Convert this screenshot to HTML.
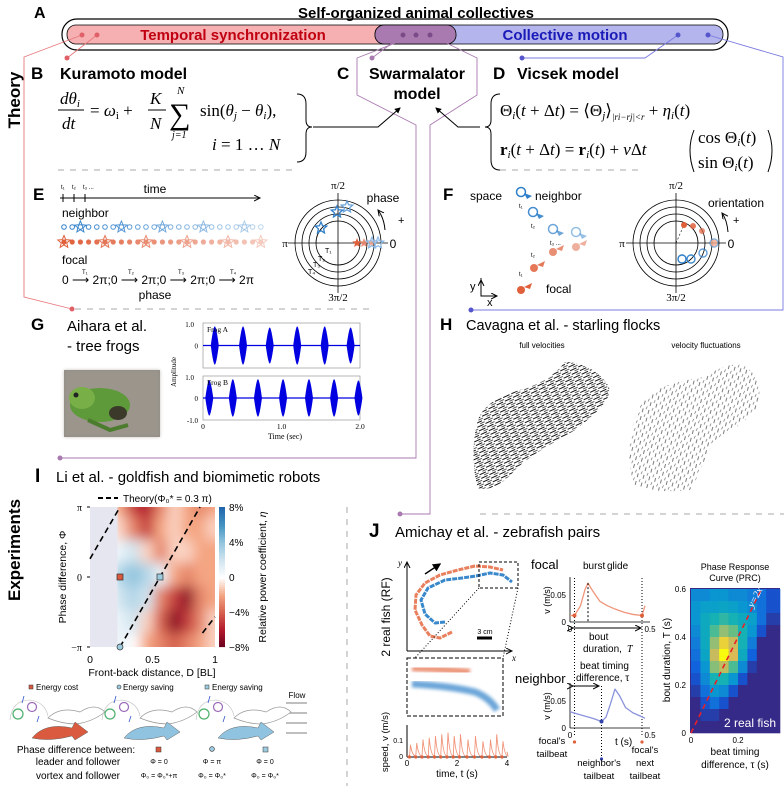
<!DOCTYPE html>
<html><head><meta charset="utf-8">
<style>
html,body{margin:0;padding:0;background:#fff;}
svg{display:block;font-family:"Liberation Sans",Arial,sans-serif;}
.serif{font-family:"Liberation Serif",serif;}
</style></head>
<body>
<svg id="fig" width="784" height="786" viewBox="0 0 784 786" xmlns="http://www.w3.org/2000/svg">
<defs>
<filter id="blur4" x="-5%" y="-5%" width="110%" height="110%"><feGaussianBlur stdDeviation="6"/></filter>
<filter id="blur2"><feGaussianBlur stdDeviation="1.6"/></filter>
<clipPath id="clipI"><rect x="90" y="507" width="125" height="140"/></clipPath>
<pattern id="strokesA" width="9" height="4" patternUnits="userSpaceOnUse" patternTransform="rotate(-25)">
<line x1="0" y1="1" x2="7" y2="1" stroke="#111" stroke-width="1"/><line x1="4" y1="3" x2="9" y2="3" stroke="#333" stroke-width="0.8"/></pattern>
<pattern id="strokesB" width="8" height="6" patternUnits="userSpaceOnUse" patternTransform="rotate(-75)">
<line x1="0" y1="1" x2="4" y2="1" stroke="#222" stroke-width="0.6"/><line x1="4" y1="4" x2="7" y2="4.5" stroke="#444" stroke-width="0.6"/></pattern>
<marker id="arr" markerWidth="8" markerHeight="8" refX="6" refY="3" orient="auto"><path d="M0,0 L6,3 L0,6" fill="none" stroke="#000" stroke-width="1"/></marker>
<marker id="arrf" markerWidth="6" markerHeight="6" refX="5" refY="3" orient="auto"><path d="M0,0 L6,3 L0,6 Z" fill="#000"/></marker>
</defs>

<!-- Panel A -->
<text x="34" y="18" font-size="16" font-weight="bold">A</text>
<text x="416" y="18" font-size="15" font-weight="bold" text-anchor="middle">Self-organized animal collectives</text>
<rect x="62" y="19" width="666" height="31" rx="15" fill="none" stroke="#000" stroke-width="1.2"/>
<rect x="67" y="25" width="390" height="19" rx="9" fill="#f6b0b2" stroke="#000" stroke-width="0.8"/>
<rect x="375" y="25" width="348" height="19" rx="9" fill="#b3b5ec" stroke="#000" stroke-width="0.8"/>
<path d="M384,25 H447 A9,9 0 0 1 456,34 A9,9 0 0 1 447,44 H384 A9,9 0 0 1 375,34 A9,9 0 0 1 384,25 Z" fill="#a97ab0" stroke="#000" stroke-width="0.8"/>
<text x="233" y="40" font-size="15" font-weight="bold" fill="#c00010" text-anchor="middle">Temporal synchronization</text>
<text x="565" y="40" font-size="15" font-weight="bold" fill="#1a1ab8" text-anchor="middle">Collective motion</text>

<!-- connector lines -->
<g fill="none" stroke-width="0.9">
<polyline points="82,35 24,57 24,297 72,309" stroke="#e87a7e"/>
<polyline points="97,35 67,58" stroke="#e87a7e"/>
<polyline points="708,35 783,57 783,310 471,310" stroke="#7a7ae0"/>
<polyline points="678,35 645,58 522,58" stroke="#7a7ae0"/>
<polyline points="403,35 372,58" stroke="#a97ab0"/>
<polyline points="416,35 357,58 357,95 416,125 416,458 60,458" stroke="#a97ab0"/>
<polyline points="430,35 477,58 477,95 430,125 430,514 400,514" stroke="#a97ab0"/>
</g>
<g>
<circle cx="82" cy="35" r="2.5" fill="#e06068"/><circle cx="97" cy="35" r="2.5" fill="#e06068"/>
<circle cx="67" cy="58" r="2.5" fill="#e06068"/><circle cx="72" cy="309" r="2.5" fill="#e06068"/>
<circle cx="403" cy="35" r="2.5" fill="#7a4b88"/><circle cx="416" cy="35" r="2.5" fill="#7a4b88"/><circle cx="430" cy="35" r="2.5" fill="#7a4b88"/>
<circle cx="372" cy="58" r="2.5" fill="#a97ab0"/><circle cx="60" cy="458" r="2.5" fill="#a97ab0"/><circle cx="400" cy="514" r="2.5" fill="#a97ab0"/>
<circle cx="678" cy="35" r="2.5" fill="#5555cc"/><circle cx="708" cy="35" r="2.5" fill="#5555cc"/>
<circle cx="522" cy="58" r="2.5" fill="#5555cc"/><circle cx="471" cy="310" r="2.5" fill="#5555cc"/>
</g>

<text transform="translate(20,100) rotate(-90)" font-size="17" font-weight="bold" text-anchor="middle">Theory</text>
<text transform="translate(20,550) rotate(-90)" font-size="17" font-weight="bold" text-anchor="middle">Experiments</text>

<!-- B -->
<text x="31" y="79" font-size="17" font-weight="bold">B</text>
<text x="60" y="79" font-size="16" font-weight="bold">Kuramoto model</text>
<g class="serif" font-style="italic" font-size="17">
<text x="60" y="104">dθ<tspan font-size="11" dy="3">i</tspan></text>
<line x1="58" y1="110" x2="84" y2="110" stroke="#000"/>
<text x="62" y="129">dt</text>
<text x="90" y="116" font-style="normal">= <tspan font-style="italic">ω</tspan><tspan font-size="11" dy="3">i</tspan><tspan dy="-3"> +</tspan></text>
<text x="150" y="104">K</text><line x1="148" y1="110" x2="166" y2="110" stroke="#000"/><text x="150" y="129">N</text>
<text x="169" y="124" font-style="normal" font-size="30">∑</text>
<text x="177" y="94" font-size="11">N</text><text x="172" y="138" font-size="10">j=1</text>
<text x="200" y="116" font-style="normal">sin(<tspan font-style="italic">θ</tspan><tspan font-size="11" dy="3" font-style="italic">j</tspan><tspan dy="-3"> − </tspan><tspan font-style="italic">θ</tspan><tspan font-size="11" dy="3" font-style="italic">i</tspan><tspan dy="-3">),</tspan></text>
<text x="212" y="150">i <tspan font-style="normal">= 1 … </tspan>N</text>
<path d="M297,94 Q306,94 306,104 V120 Q306,127 312,127 Q306,127 306,134 V152 Q306,162 297,162" fill="none" stroke="#000" stroke-width="1"/>
</g>
<polyline points="313,127 378,127 400,108" fill="none" stroke="#000" stroke-width="1" marker-end="url(#arrf)"/>

<!-- C -->
<text x="337" y="79" font-size="17" font-weight="bold">C</text>
<text x="417" y="79" font-size="16" font-weight="bold" text-anchor="middle">Swarmalator</text>
<text x="417" y="99" font-size="16" font-weight="bold" text-anchor="middle">model</text>

<!-- D -->
<text x="493" y="79" font-size="17" font-weight="bold">D</text>
<text x="517" y="79" font-size="16" font-weight="bold">Vicsek model</text>
<polyline points="480,127 458,127 436,108" fill="none" stroke="#000" stroke-width="1" marker-end="url(#arrf)"/>
<g class="serif" font-size="17">
<path d="M500,94 Q491,94 491,104 V120 Q491,127 485,127 Q491,127 491,134 V160 Q491,170 500,170" fill="none" stroke="#000" stroke-width="1"/>
<text x="500" y="116">Θ<tspan font-size="11" dy="3" font-style="italic">i</tspan><tspan dy="-3">(<tspan font-style="italic">t</tspan> + Δ<tspan font-style="italic">t</tspan>) = ⟨Θ</tspan><tspan font-size="11" dy="3" font-style="italic">j</tspan><tspan dy="-3">⟩</tspan><tspan font-size="9" dy="4" font-style="italic">|ri−rj|&lt;r</tspan><tspan dy="-4"> + </tspan><tspan font-style="italic">η</tspan><tspan font-size="11" dy="3" font-style="italic">i</tspan><tspan dy="-3">(<tspan font-style="italic">t</tspan>)</tspan></text>
<text x="500" y="155"><tspan font-weight="bold">r</tspan><tspan font-size="11" dy="3" font-style="italic">i</tspan><tspan dy="-3">(<tspan font-style="italic">t</tspan> + Δ<tspan font-style="italic">t</tspan>) = </tspan><tspan font-weight="bold">r</tspan><tspan font-size="11" dy="3" font-style="italic">i</tspan><tspan dy="-3">(<tspan font-style="italic">t</tspan>) + <tspan font-style="italic">v</tspan>Δ<tspan font-style="italic">t</tspan></tspan></text>
<text x="698" y="143">cos Θ<tspan font-size="11" dy="3" font-style="italic">i</tspan><tspan dy="-3">(<tspan font-style="italic">t</tspan>)</tspan></text>
<text x="698" y="168">sin Θ<tspan font-size="11" dy="3" font-style="italic">i</tspan><tspan dy="-3">(<tspan font-style="italic">t</tspan>)</tspan></text>
<path d="M694,130 Q686,150 694,172" fill="none" stroke="#000"/><path d="M768,130 Q776,150 768,172" fill="none" stroke="#000"/>
</g>
<line x1="58" y1="170" x2="296" y2="170" stroke="#aaa" stroke-dasharray="6,6"/>
<line x1="500" y1="170" x2="640" y2="170" stroke="#aaa" stroke-dasharray="6,6"/>
<line x1="75" y1="309" x2="375" y2="309" stroke="#aaa" stroke-dasharray="6,6"/>

<!-- E -->
<text x="33" y="200" font-size="17" font-weight="bold">E</text>
<g font-size="6"><text x="61" y="189">t₁</text><text x="72" y="189">t₂</text><text x="83" y="189">t₃ ...</text></g>
<text x="155" y="193" font-size="12" text-anchor="middle">time</text>
<line x1="60" y1="198" x2="260" y2="198" stroke="#000" marker-end="url(#arr)"/>
<g stroke="#000"><line x1="63" y1="194" x2="63" y2="202"/><line x1="74" y1="194" x2="74" y2="202"/><line x1="85" y1="194" x2="85" y2="202"/></g>
<text x="62" y="217" font-size="12">neighbor</text>
<g id="rowN"></g>
<g id="rowF"></g>
<text x="62" y="264" font-size="12">focal</text>
<text x="62" y="284" font-size="12">0 <tspan>⟶</tspan> 2π;0 ⟶ 2π;0 ⟶ 2π;0 ⟶ 2π</text>
<g font-size="6"><text x="82" y="274">T₁</text><text x="128" y="274">T₂</text><text x="178" y="274">T₃</text><text x="230" y="274">T₄</text></g>
<text x="155" y="299" font-size="12" text-anchor="middle">phase</text>
<g id="circE"></g>
<text x="338" y="189" font-size="11" text-anchor="middle" class="serif">π/2</text>
<text x="338" y="301" font-size="11" text-anchor="middle" class="serif">3π/2</text>
<text x="285" y="247" font-size="11" text-anchor="middle" class="serif">π</text>
<text x="393" y="248" font-size="12" text-anchor="middle">0</text>
<text x="383" y="202" font-size="12" text-anchor="middle">phase</text>
<text x="398" y="224" font-size="11">+</text>
<path d="M385,230 Q384,218 378,210" fill="none" stroke="#000" marker-end="url(#arr)"/>
<g font-size="7"><text x="325" y="253">T₁</text><text x="318" y="261">T₂</text><text x="313" y="267">T₃</text><text x="308" y="274">T₄</text></g>

<!-- F -->
<text x="443" y="200" font-size="17" font-weight="bold">F</text>
<text x="470" y="200" font-size="12">space</text>
<text x="535" y="200" font-size="12">neighbor</text>
<g id="trajF"></g>
<text x="546" y="293" font-size="12">focal</text>
<g font-size="6"><text x="519" y="208">t₁</text><text x="531" y="228">t₂</text><text x="550" y="245">t₃ ...</text><text x="531" y="257">t₂</text><text x="519" y="276">t₁</text></g>
<g stroke="#000" fill="none"><polyline points="481,278 481,296 497,296" marker-end="url(#arr)"/><line x1="481" y1="296" x2="481" y2="280" marker-end="url(#arr)"/></g>
<text x="470" y="290" font-size="11">y</text>
<text x="487" y="306" font-size="11">x</text>
<g id="circF"></g>
<text x="676" y="189" font-size="11" text-anchor="middle" class="serif">π/2</text>
<text x="676" y="301" font-size="11" text-anchor="middle" class="serif">3π/2</text>
<text x="622" y="247" font-size="11" text-anchor="middle" class="serif">π</text>
<text x="731" y="248" font-size="12" text-anchor="middle">0</text>
<text x="736" y="207" font-size="12" text-anchor="middle">orientation</text>
<text x="733" y="224" font-size="11">+</text>
<path d="M728,232 Q727,220 722,213" fill="none" stroke="#000" marker-end="url(#arr)"/>

<!-- G -->
<text x="31" y="330" font-size="17" font-weight="bold">G</text>
<text x="67" y="331" font-size="15">Aihara et al.</text>
<text x="67" y="351" font-size="15">- tree frogs</text>
<g>
<rect x="64" y="370" width="96" height="67" fill="#8f8a82"/>
<rect x="64" y="370" width="96" height="67" fill="#a39d94" opacity="0.6" filter="url(#blur2)"/>
<ellipse cx="100" cy="405" rx="30" ry="17" fill="#5f9a3a"/>
<ellipse cx="82" cy="398" rx="13" ry="11" fill="#78b047"/>
<ellipse cx="118" cy="413" rx="9" ry="7" fill="#3b3a2a"/>
<circle cx="76" cy="395" r="2.5" fill="#222"/>
<path d="M88,420 L110,430 L128,425" stroke="#4c7d2e" stroke-width="4" fill="none"/>
</g>
<g id="frogplot"></g>

<!-- H -->
<text x="440" y="330" font-size="17" font-weight="bold">H</text>
<text x="466" y="330" font-size="14.5">Cavagna et al. - starling flocks</text>
<text x="542" y="348" font-size="8" text-anchor="middle">full velocities</text>
<text x="706" y="348" font-size="8" text-anchor="middle">velocity fluctuations</text>
<path d="M478,488 C472,470 472,440 478,420 C484,404 500,396 520,390 C540,384 552,378 565,362 C585,362 605,375 610,390 C608,405 590,418 575,430 C555,442 530,455 515,470 C505,482 490,492 478,488 Z" fill="url(#strokesA)"/>
<path d="M635,485 C626,465 628,430 640,405 C650,390 670,382 700,378 C715,372 725,362 745,365 C758,375 762,395 758,405 C750,420 730,432 715,440 C705,455 700,475 690,490 C672,492 650,492 635,485 Z" fill="url(#strokesB)"/>

<!-- I -->
<text x="35" y="482" font-size="19" font-weight="bold">I</text>
<text x="56" y="482" font-size="15">Li et al. - goldfish and biomimetic robots</text>
<g id="heatI"></g>
<line x1="98" y1="498" x2="118" y2="498" stroke="#000" stroke-width="2" stroke-dasharray="5,3"/>
<text x="123" y="502" font-size="10">Theory(Φ₀* = 0.3 π)</text>
<text transform="translate(66,577) rotate(-90)" font-size="10.5" text-anchor="middle">Phase difference, Φ</text>
<text x="152" y="676" font-size="10.5" text-anchor="middle">Front-back distance, D [BL]</text>
<text transform="translate(266,577) rotate(-90)" font-size="10.5" text-anchor="middle">Relative power coefficient, <tspan font-style="italic">η</tspan></text>

<g font-size="8">
<rect x="29" y="685" width="4" height="4" fill="#d95a3f" stroke="#333" stroke-width="0.5"/><text x="36" y="690">Energy cost</text>
<circle cx="119" cy="687" r="2" fill="#9ccbe0" stroke="#333" stroke-width="0.6"/><text x="123" y="690">Energy saving</text>
<rect x="205" y="685" width="4" height="4" fill="#9ccbe0" stroke="#333" stroke-width="0.5"/><text x="212" y="690">Energy saving</text>
<text x="297" y="698" text-anchor="middle">Flow</text>
</g>
<g stroke="#aaa" stroke-width="1.6">
<line x1="307" y1="703" x2="286" y2="703"/><line x1="307" y1="713" x2="286" y2="713"/><line x1="307" y1="723" x2="286" y2="723"/><line x1="307" y1="733" x2="286" y2="733"/>
</g>
<g id="fishes"></g>
<g font-size="9">
<text x="76" y="753" text-anchor="middle" font-size="10">Phase difference between:</text>
<text x="78" y="765" text-anchor="middle" font-size="10">leader and follower</text>
<text x="78" y="779" text-anchor="middle" font-size="10">vortex and follower</text>
<rect x="156" y="747" width="5" height="5" fill="#d95a3f" stroke="#333" stroke-width="0.5"/>
<circle cx="212" cy="749" r="2.4" fill="#9ccbe0" stroke="#333" stroke-width="0.6"/>
<rect x="263" y="747" width="5" height="5" fill="#9ccbe0" stroke="#333" stroke-width="0.5"/>
<text x="159" y="764" text-anchor="middle" font-size="7">Φ = 0</text><text x="212" y="764" text-anchor="middle" font-size="7">Φ = π</text><text x="265" y="764" text-anchor="middle" font-size="7">Φ = 0</text>
<text x="159" y="778" text-anchor="middle" font-size="7">Φ₀ = Φ₀*+π</text><text x="212" y="778" text-anchor="middle" font-size="7">Φ₀ = Φ₀*</text><text x="265" y="778" text-anchor="middle" font-size="7">Φ₀ = Φ₀*</text>
</g>
<line x1="347" y1="507" x2="347" y2="786" stroke="#aaa" stroke-dasharray="6,6"/>
<line x1="480" y1="514" x2="784" y2="514" stroke="#aaa" stroke-dasharray="6,6"/>

<!-- J -->
<text x="369" y="537" font-size="19" font-weight="bold">J</text>
<text x="395" y="537" font-size="15">Amichay et al. - zebrafish pairs</text>
<text transform="translate(390,617) rotate(-90)" font-size="12" text-anchor="middle">2 real fish (RF)</text>
<g id="traj"></g>
<g id="speed"></g>
<g id="focalplot"></g>
<g id="neighplot"></g>
<g id="prc"></g>
</svg>

<script>
const NS='http://www.w3.org/2000/svg';
function mk(parent,tag,attrs,txt){const e=document.createElementNS(NS,tag);for(const k in attrs)e.setAttribute(k,attrs[k]);if(txt!==undefined)e.textContent=txt;parent.appendChild(e);return e;}
function star(cx,cy,r){let p=[];for(let i=0;i<10;i++){const a=-Math.PI/2+i*Math.PI/5;const rr=i%2?r*0.45:r;p.push((cx+rr*Math.cos(a)).toFixed(1)+','+(cy+rr*Math.sin(a)).toFixed(1));}return p.join(' ');}

// ---- E rows ----
const rowN=document.getElementById('rowN'), rowF=document.getElementById('rowF');
for(let i=0;i<25;i++){
  const x=64+i*8.2, op=1-i*0.028;
  const c=mk(rowN,'circle',{cx:x,cy:227,r:2.3,fill:'none',stroke:'#2f7fc9','stroke-width':1,opacity:op});
  
  
  if(i%5===2){const s=mk(rowN,'polygon',{points:star(x,227,6),fill:'none',stroke:'#2f7fc9','stroke-width':1,opacity:op});
    
    }
  const d=mk(rowF,'circle',{cx:x,cy:242,r:2.6,fill:'#e0603c',opacity:op});
  
  
  if(i%5===0||i===24){const s=mk(rowF,'polygon',{points:star(x,242,6.5),fill:'none',stroke:'#e0603c','stroke-width':1,opacity:op});
    
    }
}
// ---- circles ----
function rings(g,cx,cy){
  [43,36,29,22].forEach(r=>mk(g,'circle',{cx,cy,r,fill:'none',stroke:'#000','stroke-width':0.8}));
  mk(g,'line',{x1:cx-50,y1:cy,x2:cx+50,y2:cy,stroke:'#000','stroke-width':0.8});
  mk(g,'line',{x1:cx,y1:cy-50,x2:cx,y2:cy+50,stroke:'#000','stroke-width':0.8});
}
const cE=document.getElementById('circE'); rings(cE,338,243);
[[321,228,'#2f7fc9',1],[337,212,'#2f7fc9',1],[347,207,'#5a9ad6',0.9]].forEach(s=>{const p=mk(cE,'polygon',{points:star(s[0],s[1],6),fill:'none',stroke:s[2],'stroke-width':1.3,opacity:s[3]});
  
  });
[[357,243,'#e0603c',1],[364,243,'#e8846a',0.9],[371,243,'#efa08a',0.8]].forEach(s=>{const p=mk(cE,'polygon',{points:star(s[0],s[1],5),fill:s[2],opacity:s[3]});
  
  });
[[372,243],[378,243]].forEach(s=>{const p=mk(cE,'polygon',{points:star(s[0],s[1],6),fill:'none',stroke:'#8ab8e6','stroke-width':1.2});
  
  });

const cF=document.getElementById('circF'); rings(cF,676,243);
mk(cF,'line',{x1:676,y1:243,x2:684,y2:225,stroke:'#000','stroke-dasharray':'2,2','stroke-width':0.6});
[[684,225,1],[693,226,0.85],[702,231,0.7]].forEach(s=>{const p=mk(cF,'circle',{cx:s[0],cy:s[1],r:3,fill:'#e0603c',opacity:s[2]});
  
  });
[[682,259,1],[691,259,0.9],[703,253,0.75],[714,243,0.6]].forEach(s=>{const p=mk(cF,'circle',{cx:s[0],cy:s[1],r:4,fill:'none',stroke:'#2f7fc9','stroke-width':1.4,opacity:s[2]});
  
  });
mk(cF,'circle',{cx:714,cy:243,r:3.5,fill:'#f2a98f',opacity:0.8});

// ---- F trajectories ----
const tF=document.getElementById('trajF');
const nPts=[[521,192,1],[533,212,0.9],[553,229,0.7],[576,232,0.5]];
const fPts=[[521,290,1],[534,268,0.85],[553,252,0.7],[576,247,0.5]];
nPts.forEach(p=>{const c=mk(tF,'circle',{cx:p[0],cy:p[1],r:4.5,fill:'none',stroke:'#2f7fc9','stroke-width':1.5,opacity:p[2]});
  
  
  mk(tF,'path',{d:`M${p[0]+3},${p[1]+1} l8,3 l-5,3 z`,fill:'#2f7fc9',opacity:p[2]});});
fPts.forEach(p=>{const c=mk(tF,'circle',{cx:p[0],cy:p[1],r:4,fill:'#e0603c',opacity:p[2]});
  
  
  mk(tF,'path',{d:`M${p[0]+3},${p[1]-3} l8,-4 l-2,6 z`,fill:'#e0603c',opacity:p[2]});});

// ---- G frog plot ----
const frogA_times=[0.15,0.51,0.85,1.2,1.55,1.88];
const frogB_times=[0.08,0.38,0.7,1.02,1.35,1.67,1.98];
const frogA_amp=[0.85,0.85,0.8,0.85,0.85,0.8];
const frogB_amp=[0.8,0.85,0.85,0.85,0.85,0.85,0.8];
const frogTicks=['0','1.0','2.0'];
const fg=document.getElementById('frogplot');
const fx=t=>203+t*78.5;
function frogPanel(y0,y1,times,amps,name){
  const mid=(y0+y1)/2, half=(y1-y0)/2;
  const fy=v=>mid-v*half;
  mk(fg,'rect',{x:203,y:y0,width:157,height:y1-y0,fill:'none',stroke:'#888','stroke-width':0.6});
  mk(fg,'line',{x1:203,y1:fy(0),x2:360,y2:fy(0),stroke:'#0000e0','stroke-width':1.2});
  times.forEach((t,i)=>{const x=fx(t),a=amps[i];
    const b=mk(fg,'path',{d:`M${x-4},${fy(0)} Q${x-1.5},${fy(a)} ${x},${fy(a)} Q${x+1.5},${fy(a)} ${x+4},${fy(0)} Q${x+1.5},${fy(-a)} ${x},${fy(-a)} Q${x-1.5},${fy(-a)} ${x-4},${fy(0)}Z`,fill:'#0000e0'});
    
    });
  mk(fg,'text',{x:194,y:y0+4,'font-size':7,'text-anchor':'end','font-family':'Liberation Serif'},'1.0');
  mk(fg,'text',{x:198,y:mid+3,'font-size':7,'text-anchor':'end','font-family':'Liberation Serif'},'0');
  mk(fg,'text',{x:207,y:y0+9,'font-size':7.5,'font-family':'Liberation Serif'},name);
}
frogPanel(323,368,frogA_times,frogA_amp,'Frog A');
frogPanel(376,420,frogB_times,frogB_amp,'Frog B');
mk(fg,'text',{x:198,y:423,'font-size':7,'text-anchor':'end','font-family':'Liberation Serif'},'-1.0');
frogTicks.forEach((l,i)=>mk(fg,'text',{x:fx(i),y:429,'font-size':7.5,'text-anchor':'middle','font-family':'Liberation Serif'},l));
mk(fg,'text',{x:285,y:439,'font-size':8,'text-anchor':'middle','font-family':'Liberation Serif'},'Time (sec)');
mk(fg,'text',{x:176,y:372,'font-size':7,'text-anchor':'middle','font-family':'Liberation Serif',transform:'rotate(-90 176 372)'},'Amplitude');

// ---- I heatmap ----
const I_xcenters=[0.25,0.36,0.47,0.58,0.69,0.8,0.9,1.0];
const I_ycenters=[1,0.667,0.333,0,-0.333,-0.667,-1];
const I_values=[
 [-2,-5,-6,-3,-1,-2,-3,-2],
 [-1,-3,-5,-2,-1,-2,-2,-1],
 [1,2,-1,-3,-1,-1,-2,-2],
 [3,4,3,1,-2,-3,-2,-2],
 [2,3,2,-3,-5,-7,-3,-2],
 [1,2,-1,-4,-7,-5,-3,-1],
 [1,0,-2,-3,-4,-3,-2,-1]];
const I_cbTicks=['8%','4%','0','−4%','−8%'];
const I_cbVals=[8,4,0,-4,-8];
const I_yTicks=['π','0','−π'];
const I_yTickVals=[1,0,-1];
const I_xTicks=['0','0.5','1'];
const I_xTickVals=[0,0.5,1];
const I_markers=[[0.24,0,'square','#d95a3f'],[0.56,0,'square','#9ccbe0'],[0.24,-1,'circle','#9ccbe0']];
const theoryLines=[[0,0.26,0.24,1],[0.24,-1,0.88,1],[0.9,-0.8,1,-0.57]];
const ix=x=>90+x*125, iy=v=>577-v*70;
function rdbu(v){const t=Math.max(-1,Math.min(1,v/8));
  const neg=[[255,255,255],[244,165,130],[214,96,77],[178,24,43],[103,0,31]];
  const pos=[[255,255,255],[209,229,240],[146,197,222],[67,147,195],[33,102,172]];
  const arr=t<0?neg:pos;const u=Math.abs(t)*4;const i=Math.min(3,Math.floor(u));const f=u-i;
  const c=arr[i].map((a,k)=>Math.round(a+(arr[i+1][k]-a)*f));return `rgb(${c})`;}
const hI=document.getElementById('heatI');
const gI=mk(hI,'g',{'clip-path':'url(#clipI)'});
const gB=mk(gI,'g',{filter:'url(#blur4)'});
mk(gB,'rect',{x:ix(0.2),y:iy(1.2),width:ix(1.1)-ix(0.2),height:iy(-1.2)-iy(1.2),fill:rdbu(-2)});
I_values.forEach((row,r)=>row.forEach((v,c)=>{
  const cell=mk(gB,'rect',{x:ix(I_xcenters[c]-0.07),y:iy(I_ycenters[r]+0.2),width:ix(0.14)-ix(0),height:iy(-0.4)-iy(0),fill:rdbu(v)});
  
  
}));
mk(gI,'rect',{x:ix(0),y:iy(1),width:ix(0.22)-ix(0),height:140,fill:'#e6e6f0'});
theoryLines.forEach(l=>{const ln=mk(hI,'line',{x1:ix(l[0]),y1:iy(l[1]),x2:ix(l[2]),y2:iy(l[3]),stroke:'#000','stroke-width':1.6,'stroke-dasharray':'6,4'});
  
  });
I_markers.forEach(m=>{let e;
  if(m[2]==='square')e=mk(hI,'rect',{x:ix(m[0])-3,y:iy(m[1])-3,width:6,height:6,fill:m[3],stroke:'#333','stroke-width':0.7});
  else e=mk(hI,'circle',{cx:ix(m[0]),cy:iy(m[1]),r:3,fill:m[3],stroke:'#333','stroke-width':0.7});
  
  });
I_yTicks.forEach((l,i)=>{mk(hI,'text',{x:82,y:iy(I_yTickVals[i])+4,'font-size':10,'text-anchor':'end','font-family':'Liberation Serif'},l);
  mk(hI,'line',{x1:87,y1:iy(I_yTickVals[i]),x2:90,y2:iy(I_yTickVals[i]),stroke:'#000'});});
I_xTicks.forEach((l,i)=>mk(hI,'text',{x:ix(I_xTickVals[i]),y:663,'font-size':10.5,'text-anchor':'middle'},l));
for(let k=0;k<70;k++){const v=8-k*16/70;mk(hI,'rect',{x:219,y:507+k*2,width:6,height:2.1,fill:rdbu(v)});}
I_cbTicks.forEach((l,i)=>mk(hI,'text',{x:229,y:577-I_cbVals[i]*70/8+4,'font-size':10},l));

// ---- fish drawings ----
const fishG=document.getElementById('fishes');
const fishOff=[0,92,186];
const fishColor=['#d95a3f','#8fc3df','#8fc3df'];
fishOff.forEach((dx,i)=>{
  const g=mk(fishG,'g',{transform:`translate(${dx},0)`});
  
  
  mk(g,'path',{d:'M48,718 Q60,706 80,712 Q95,702 105,712 Q92,722 76,724 Q62,724 48,718Z',fill:'#fff',stroke:'#999','stroke-width':0.7});
  mk(g,'path',{d:'M32,738 Q45,722 72,728 L75,722 L88,732 L75,740 L72,736 Q50,742 32,738Z',fill:fishColor[i],stroke:'#666','stroke-width':0.5});
  mk(g,'circle',{cx:18,cy:714,r:5,fill:'none',stroke:'#4caf6a','stroke-width':1.2});
  mk(g,'circle',{cx:32,cy:707,r:4.5,fill:'none',stroke:'#9a6ab8','stroke-width':1.2});
  mk(g,'path',{d:'M10,720 Q12,700 30,700 Q45,702 48,716',fill:'none',stroke:'#bbb','stroke-width':0.6});
  mk(g,'line',{x1:22,y1:703,x2:24,y2:696,stroke:'#3355cc','stroke-width':0.8});
  mk(g,'line',{x1:37,y1:722,x2:39,y2:716,stroke:'#3355cc','stroke-width':0.8});
});

// ---- J trajectories ----
const trj=document.getElementById('traj');
const orangeX=[452,440,430,422,415,416,425,440,458,475,490,503];
const orangeY=[632,638,636,625,610,595,583,575,570,566,567,570];
const blueX=[445,435,425,421,428,445,462,476,490,503,512];
const blueY=[622,623,614,600,588,580,578,576,573,575,582];
mk(trj,'line',{x1:407,y1:651,x2:407,y2:562,stroke:'#000',  'marker-end':'url(#arr)'});
mk(trj,'line',{x1:407,y1:651,x2:512,y2:651,stroke:'#000','marker-end':'url(#arr)'});
mk(trj,'text',{x:398,y:566,'font-size':9,'font-style':'italic','font-family':'Liberation Serif'},'y');
mk(trj,'text',{x:512,y:661,'font-size':9,'font-style':'italic','font-family':'Liberation Serif'},'x');
function pl(xs,ys){return xs.map((x,i)=>x+','+ys[i]).join(' ');}
const po=mk(trj,'polyline',{points:pl(orangeX,orangeY),fill:'none',stroke:'#e8805e','stroke-width':3,'stroke-linejoin':'round','stroke-dasharray':'5,1'});


const pb=mk(trj,'polyline',{points:pl(blueX,blueY),fill:'none',stroke:'#3a88cc','stroke-width':3,'stroke-linejoin':'round','stroke-dasharray':'5,1'});


mk(trj,'line',{x1:425,y1:574,x2:440,y2:564,stroke:'#000','stroke-width':1.4,'marker-end':'url(#arrf)'});
mk(trj,'rect',{x:479,y:562,width:39,height:26,fill:'none',stroke:'#000','stroke-dasharray':'3,2'});
mk(trj,'line',{x1:477,y1:638,x2:492,y2:638,stroke:'#000','stroke-width':3});
mk(trj,'text',{x:485,y:634,'font-size':7,'text-anchor':'middle'},'3 cm');
mk(trj,'line',{x1:479,y1:588,x2:415,y2:658,stroke:'#000','stroke-dasharray':'1,2'});
mk(trj,'line',{x1:518,y1:588,x2:503,y2:658,stroke:'#000','stroke-dasharray':'1,2'});
mk(trj,'rect',{x:407,y:658,width:96,height:58,fill:'none',stroke:'#000','stroke-dasharray':'4,2'});
const zo=mk(trj,'path',{d:'M412,668 Q440,669 470,672',fill:'none',stroke:'#e8805e','stroke-width':7,opacity:0.8,filter:'url(#blur2)'});


const zb=mk(trj,'path',{d:'M412,684 Q450,686 475,692 Q490,698 497,710',fill:'none',stroke:'#3a88cc','stroke-width':7,opacity:0.75,filter:'url(#blur2)'});



// ---- speed plot ----
const speedPeakT=[0.1,0.35,0.6,0.85,1.1,1.35,1.6,1.85,2.1,2.4,2.7,3.0,3.3,3.55,3.8];
const speedPeakV=[0.07,0.08,0.1,0.11,0.12,0.13,0.14,0.12,0.13,0.1,0.12,0.09,0.1,0.13,0.09];
const speedTicksX=['0','2','4'];
const sp=document.getElementById('speed');
const sx=t=>407+t*25, sy=v=>757-v*175;
mk(sp,'line',{x1:407,y1:757,x2:507,y2:757,stroke:'#000'});
mk(sp,'line',{x1:407,y1:757,x2:407,y2:725,stroke:'#000'});
let d=`M${sx(0)},${sy(0.005)}`;
speedPeakT.forEach((t,i)=>{d+=` L${sx(t)},${sy(0.005)} L${sx(t+0.04)},${sy(speedPeakV[i])} Q${sx(t+0.1)},${sy(0.01)} ${sx(t+0.24)},${sy(0.005)}`;});
d+=` L${sx(4)},${sy(0.03)}`;
const sl=mk(sp,'path',{d,fill:'none',stroke:'#f0957a','stroke-width':0.9});


speedPeakT.forEach(t=>{const c=mk(sp,'circle',{cx:sx(t),cy:757,r:1.6,fill:'#e0603c'});
  
  });
speedTicksX.forEach((l,i)=>mk(sp,'text',{x:sx(i*2),y:766,'font-size':8,'text-anchor':'middle'},l));
mk(sp,'text',{x:403,y:743,'font-size':7,'text-anchor':'end'},'0.1');
mk(sp,'text',{x:403,y:759,'font-size':7,'text-anchor':'end'},'0');
mk(sp,'text',{x:457,y:777,'font-size':10,'text-anchor':'middle'},'time, t (s)');
mk(sp,'text',{x:388,y:742,'font-size':9.5,'text-anchor':'middle',transform:'rotate(-90 388 742)'},'speed, v (m/s)');

// ---- focal & neighbor plots ----
const focalT=[0,0.03,0.07,0.1,0.12,0.15,0.2,0.25,0.3,0.36,0.42,0.48,0.5];
const focalV=[0.012,0.012,0.03,0.06,0.072,0.058,0.038,0.03,0.024,0.018,0.014,0.012,0.03];
const neighT=[0,0.05,0.1,0.15,0.21,0.24,0.27,0.3,0.33,0.37,0.42,0.47,0.5];
const neighV=[0.03,0.026,0.022,0.018,0.012,0.02,0.045,0.072,0.06,0.038,0.028,0.022,0.018];
const focalBeats=[0.03,0.48];
const neighBeat=[0.21];
const px=t=>570+t*150;
function speedPanel(g,T,V,y0,color){
  const py=v=>y0-v*540;
  mk(g,'line',{x1:570,y1:y0,x2:650,y2:y0,stroke:'#000','stroke-width':0.8});
  mk(g,'line',{x1:570,y1:y0,x2:570,y2:y0-45,stroke:'#000','stroke-width':0.8});
  const p=mk(g,'polyline',{points:T.map((t,i)=>px(t)+','+py(V[i])).join(' '),fill:'none',stroke:color,'stroke-width':1.3,'stroke-linejoin':'round'});
  
  
  mk(g,'text',{x:566,y:py(0.05)+3,'font-size':8,'text-anchor':'end'},'0.05');
  mk(g,'text',{x:566,y:y0+3,'font-size':8,'text-anchor':'end'},'0');
  mk(g,'text',{x:570,y:y0+10,'font-size':8,'text-anchor':'middle'},'0');
  mk(g,'text',{x:650,y:y0+10,'font-size':8,'text-anchor':'middle'},'0.5');
  mk(g,'text',{x:550,y:y0-22,'font-size':9,'text-anchor':'middle',transform:`rotate(-90 550 ${y0-22})`},'v (m/s)');
  return py;
}
const fp=document.getElementById('focalplot');
const fpy=speedPanel(fp,focalT,focalV,622,'#f0957a');
focalBeats.forEach(t=>{mk(fp,'line',{x1:px(t),y1:578,x2:px(t),y2:735,stroke:'#000','stroke-dasharray':'1,2'});
  const c=mk(fp,'circle',{cx:px(t),cy:fpy(0.012),r:2,fill:'#e0603c'});
  
  });
mk(fp,'line',{x1:px(0.12),y1:fpy(0.072),x2:px(0.12),y2:622,stroke:'#000','stroke-dasharray':'2,2'});
mk(fp,'text',{x:531,y:569,'font-size':13},'focal');
mk(fp,'text',{x:583,y:569,'font-size':10},'burst');
mk(fp,'text',{x:607,y:569,'font-size':10},'glide');
mk(fp,'line',{x1:573,y1:628,x2:641,y2:628,stroke:'#000','marker-end':'url(#arr)','marker-start':'url(#arr)'});
mk(fp,'text',{x:589,y:640,'font-size':10},'bout');
mk(fp,'text',{x:583,y:652,'font-size':10},'duration, ');
mk(fp,'text',{x:627,y:652,'font-size':10,'font-style':'italic','font-family':'Liberation Serif'},'T');
mk(fp,'text',{x:580,y:669,'font-size':10},'beat timing');
mk(fp,'text',{x:576,y:681,'font-size':10},'difference, τ');

const np=document.getElementById('neighplot');
const npy=speedPanel(np,neighT,neighV,728,'#8a93dc');
mk(np,'line',{x1:573,y1:686,x2:599,y2:686,stroke:'#000','marker-end':'url(#arr)','marker-start':'url(#arr)'});
neighBeat.forEach(t=>{mk(np,'line',{x1:px(t),y1:686,x2:px(t),y2:758,stroke:'#000','stroke-dasharray':'1,2'});
  const c=mk(np,'circle',{cx:px(t),cy:npy(0.012),r:2,fill:'#3344aa'});
  
  
  mk(np,'circle',{cx:px(t),cy:759,r:1.6,fill:'#3344aa'});});
mk(np,'circle',{cx:px(0.03),cy:742,r:1.6,fill:'#e0603c'});
mk(np,'circle',{cx:px(0.48),cy:742,r:1.6,fill:'#e0603c'});
mk(np,'text',{x:515,y:683,'font-size':13},'neighbor');
mk(np,'text',{x:615,y:745,'font-size':10},'t (s)');
mk(np,'text',{x:552,y:744,'font-size':9.5,'text-anchor':'middle'},"focal's");
mk(np,'text',{x:552,y:757,'font-size':9.5,'text-anchor':'middle'},'tailbeat');
mk(np,'text',{x:599,y:766,'font-size':9.5,'text-anchor':'middle'},"neighbor's");
mk(np,'text',{x:599,y:779,'font-size':9.5,'text-anchor':'middle'},'tailbeat');
mk(np,'text',{x:645,y:753,'font-size':9.5,'text-anchor':'middle'},"focal's");
mk(np,'text',{x:645,y:766,'font-size':9.5,'text-anchor':'middle'},'next');
mk(np,'text',{x:645,y:779,'font-size':9.5,'text-anchor':'middle'},'tailbeat');

// ---- PRC heatmap ----
const prcX=[0,0.04,0.08,0.12,0.16,0.2,0.24,0.28,0.32];
const prcY=[0.55,0.5,0.45,0.4,0.35,0.3,0.25,0.2,0.15,0.1,0.05,0];
const prcV=[
 [.3,.3,.35,.35,.3,.3,.25,.2,.1],
 [.35,.4,.4,.42,.4,.35,.3,.2,.1],
 [.35,.45,.5,.55,.5,.45,.4,.2,.05],
 [.3,.45,.6,.72,.65,.5,.35,.1,0],
 [.25,.45,.72,.92,.82,.5,.25,0,0],
 [.2,.42,.82,1,.86,.45,.15,0,0],
 [.15,.35,.7,.8,.6,.3,.05,0,0],
 [.1,.3,.5,.5,.35,.1,0,0,0],
 [.05,.2,.35,.3,.1,0,0,0,0],
 [0,.1,.2,.1,0,0,0,0,0],
 [0,.05,.05,0,0,0,0,0,0],
 [0,0,0,0,0,0,0,0,0]];
const prcXTicks=['0','0.2'];
const prcXTickVals=[0,0.2];
const prcYTicks=['0','0.2','0.4','0.6'];
const prcYTickVals=[0,0.2,0.4,0.6];
const parula=[[53,42,135],[15,92,221],[18,125,216],[7,156,207],[21,177,180],[89,189,140],[165,190,107],[225,185,82],[249,251,14]];
function pc(v){const u=Math.max(0,Math.min(1,v))*8;const i=Math.min(7,Math.floor(u));const f=u-i;return `rgb(${parula[i].map((a,k)=>Math.round(a+(parula[i+1][k]-a)*f))})`;}
const pr=document.getElementById('prc');
const qx=x=>691+x*235, qy=y=>733-y*240;
mk(pr,'rect',{x:690,y:588,width:90,height:145,fill:pc(0)});
prcV.forEach((row,r)=>row.forEach((v,c)=>{
  const w=(c===prcX.length-1)?780-qx(prcX[c]):qx(0.04)-qx(0);
  const cell=mk(pr,'rect',{x:qx(prcX[c]),y:qy(prcY[r]+0.05),width:w+0.3,height:qy(0)-qy(0.05)+0.3,fill:pc(v)});
  
  
}));
const rl=mk(pr,'line',{x1:qx(0),y1:qy(0),x2:qx(0.3),y2:qy(0.6),stroke:'#e8202a','stroke-width':1.6,'stroke-dasharray':'5,4'});


mk(pr,'text',{x:753,y:608,'font-size':10,fill:'#fff','font-style':'italic','font-family':'Liberation Serif',transform:'rotate(-62 753 608)'},'y=2x');
mk(pr,'text',{x:776,y:727,'font-size':12,fill:'#fff','text-anchor':'end'},'2 real fish');
prcYTicks.forEach((l,i)=>mk(pr,'text',{x:686,y:qy(prcYTickVals[i])+3,'font-size':8,'text-anchor':'end'},l));
prcXTicks.forEach((l,i)=>mk(pr,'text',{x:qx(prcXTickVals[i]),y:743,'font-size':8,'text-anchor':'middle'},l));
mk(pr,'text',{x:735,y:570,'font-size':9,'text-anchor':'middle'},'Phase Response');
mk(pr,'text',{x:735,y:581,'font-size':9,'text-anchor':'middle'},'Curve (PRC)');
mk(pr,'text',{x:735,y:755,'font-size':10,'text-anchor':'middle'},'beat timing');
mk(pr,'text',{x:735,y:768,'font-size':10,'text-anchor':'middle'},'difference, τ (s)');
mk(pr,'text',{x:670,y:660,'font-size':10,'text-anchor':'middle',transform:'rotate(-90 670 660)'},'bout duration, T (s)');
</script>
</body></html>
